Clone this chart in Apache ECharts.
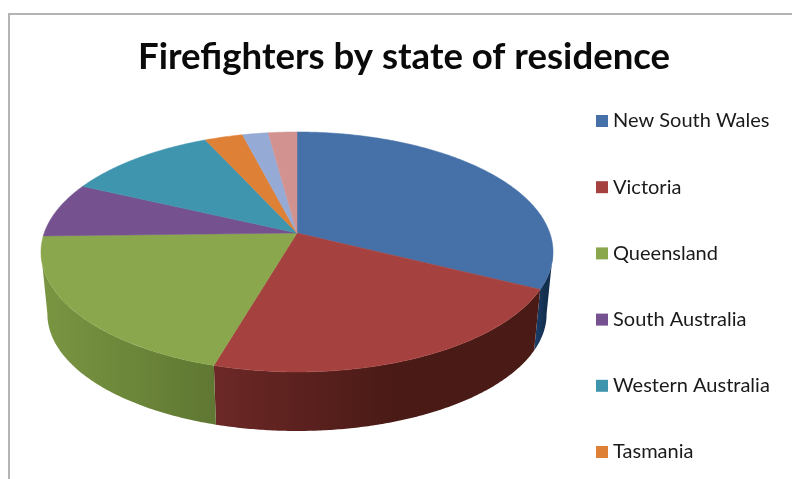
<!DOCTYPE html>
<html>
<head>
<meta charset="utf-8">
<style>html,body{margin:0;padding:0;background:#fff}#chart{width:792px;height:479px}</style>
<script src="https://cdn.jsdelivr.net/npm/echarts@6/dist/echarts.min.js"></script>
</head>
<body>
<div id="chart"></div>
<script>
// Percentage share of firefighters per state or territory.
const categories = ['New South Wales', 'Victoria', 'Queensland', 'South Australia', 'Western Australia', 'Tasmania', 'Northern Territory', 'Australian Capital Territory'];
const shares = [32.4, 22.1, 20.1, 7.4, 11.2, 2.8, 1.9, 2.1];
const legendEntries = categories.slice(0, 6);
const topColors = ['#4570a8', '#a5423f', '#8ba74d', '#75528f', '#3f95ae', '#de8137', '#95abd5', '#d29290'];
const sideStops = [
  ['#1c3f6c', '#14304f'], ['#6c2826', '#4a1a16'], ['#7a9642', '#5f7732'], ['#4f3566', '#47305c'],
  ['#2a6a7e', '#2a6a7e'], ['#a05a20', '#a05a20'], ['#6b7ea0', '#6b7ea0'], ['#9a6664', '#9a6664']
];

// Tilted-disc projection: plane coordinates on the unit circle map to the screen with mild perspective.
const disc = { cx: 297, apexY: 233, a: 252.8, b: 117, k: 0.158, depthY: 62.5, depthScale: 0.975, rimFrom: 99, rimTo: 261 };
const total = shares.reduce((s, v) => s + v, 0);

function project(deg, lower) {
  const t = deg * Math.PI / 180;
  const x = Math.sin(t), y = Math.cos(t);
  const w = 1 + disc.k * y;
  const s = lower ? disc.depthScale : 1;
  return [disc.cx + disc.a * s * x / w, disc.apexY + (lower ? disc.depthY : 0) - disc.b * s * y / w];
}

function arc(from, to, lower) {
  const pts = [];
  const steps = Math.max(2, Math.ceil(Math.abs(to - from) * 2));
  for (let i = 0; i <= steps; i++) pts.push(project(from + (to - from) * i / steps, lower));
  return pts;
}

function sliceRenderer(index) {
  const start = shares.slice(0, index).reduce((s, v) => s + v, 0) / total * 360;
  return function (params, api) {
    const end = start + api.value(0) / total * 360;
    const children = [];
    // The rim shows only between the left and right silhouette points of the disc.
    const from = Math.max(start, disc.rimFrom), to = Math.min(end, disc.rimTo);
    if (to > from) {
      const upper = arc(from, to, false);
      const lowerEdge = arc(to, from, true);
      const xs = upper.concat(lowerEdge).map(p => p[0]);
      const minX = Math.min(...xs), maxX = Math.max(...xs);
      // Rim shading runs from the lit left edge of each slice to its darker side.
      const reach = index === 2 ? 1 : 0.55;
      const st = sideStops[index];
      children.push({
        type: 'polygon',
        shape: { points: upper.concat(lowerEdge) },
        style: {
          fill: new echarts.graphic.LinearGradient(minX, 0, Math.max(minX + 1, minX + (maxX - minX) * reach), 0,
            [{ offset: 0, color: st[0] }, { offset: 1, color: st[1] }], true),
          stroke: null
        }
      });
    }
    const top = [[disc.cx, disc.apexY]].concat(arc(start, end, false));
    children.push({
      type: 'polygon',
      shape: { points: top },
      style: { fill: topColors[index], stroke: topColors[index], lineWidth: 0.5 }
    });
    return { type: 'group', children };
  };
}

const chart = echarts.init(document.getElementById('chart'), null, { renderer: 'canvas' });
chart.setOption({
  animation: false,
  backgroundColor: '#ffffff',
  title: {
    text: 'Firefighters by state of residence',
    left: 133, top: 34,
    textStyle: { fontFamily: 'Lato', fontWeight: 'bold', fontSize: 36.6, color: '#0a0a0a' }
  },
  legend: {
    data: legendEntries,
    orient: 'vertical',
    left: 596, top: 111,
    padding: 0,
    icon: 'rect',
    itemWidth: 12, itemHeight: 12,
    itemGap: 46.2,
    textStyle: { fontFamily: 'Lato', fontSize: 20, color: '#1a1a1a', lineHeight: 20 }
  },
  graphic: [
    { type: 'polyline', shape: { points: [[9, 479], [9, 14], [792, 14]] }, style: { stroke: '#b4b4b4', lineWidth: 2, fill: null } }
  ],
  series: categories.map((name, i) => ({
    type: 'custom',
    name,
    coordinateSystem: 'none',
    itemStyle: { color: topColors[i] },
    renderItem: sliceRenderer(i),
    data: [[shares[i]]]
  }))
});
</script>
</body>
</html>
